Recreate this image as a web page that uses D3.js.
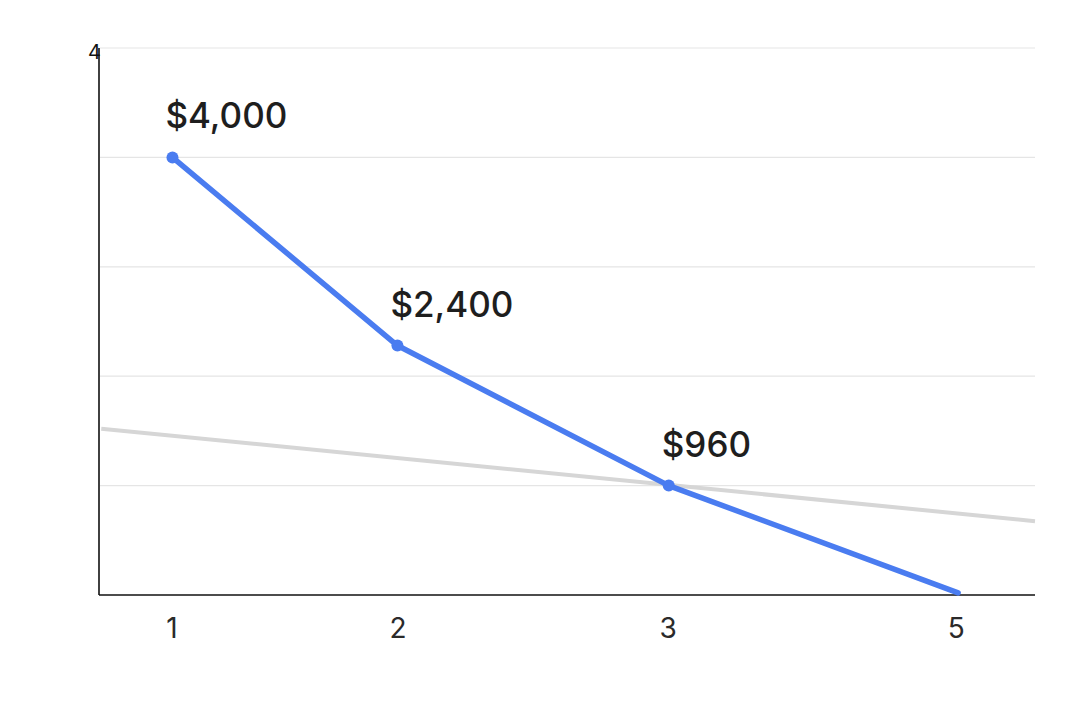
<!DOCTYPE html>
<html><head><meta charset="utf-8">
<script src="https://cdn.jsdelivr.net/npm/d3@7"></script>
<style>body{margin:0;background:#fff;} svg{display:block;}</style>
</head><body>
<svg id="c" width="1080" height="720"></svg>
<script>
// Data
const xTickPos = [1, 2, 3.195, 4.47];          // positions of ticks on the (non-uniform) x axis
const xTickLabels = ["1", "2", "3", "5"];
const seriesX = [1.005, 2, 3.2, 4.48];
const seriesY = [4000, 2280, 1000, 20];
const pointLabels = ["$4,000", "$2,400", "$960"];
const refX = [0.69, 4.82];
const refY = [1520, 675];
const yGrid = [0, 1000, 2000, 3000, 4000, 5000];
const yTopLabel = "4";

const svg = d3.select("#c");
const x = d3.scaleLinear().domain([0.68, 4.82]).range([99, 1035]);
const y = d3.scaleLinear().domain([0, 5000]).range([595, 48]);

// gridlines
svg.append("g").selectAll("line").data(yGrid.slice(1)).join("line")
  .attr("x1", 100).attr("x2", 1035)
  .attr("y1", d => y(d)).attr("y2", d => y(d))
  .attr("stroke", "#e5e5e5").attr("stroke-width", 1.2);

// gray reference line
svg.append("path")
  .datum(refX.map((v, i) => [v, refY[i]]))
  .attr("d", d3.line().x(d => x(d[0])).y(d => y(d[1])))
  .attr("fill", "none").attr("stroke", "#d6d6d6").attr("stroke-width", 4);

// axes
const xAxis = d3.axisBottom(x).tickValues(xTickPos).tickFormat((d, i) => xTickLabels[i]).tickSize(0).tickPadding(20);
const gx = svg.append("g").attr("transform", `translate(0,${y(0)})`).call(xAxis);
gx.select(".domain").attr("stroke", "#111").attr("stroke-width", 1.6).attr("d", `M${x.range()[0]},0H${x.range()[1]}`);
gx.selectAll("text").attr("dy", null).attr("y", 43)
  .style("font-family", "Inter, 'Open Sans', sans-serif").style("font-size", "28px").attr("fill", "#2a2a2a");

svg.append("line").attr("x1", 99).attr("x2", 99).attr("y1", y(5000)).attr("y2", y(0))
  .attr("stroke", "#111").attr("stroke-width", 1.6);
svg.append("g").attr("font-size", 20).attr("font-family", "Inter, sans-serif")
  .append("text").attr("x", 88).attr("y", y(5000) + 11)
  .attr("fill", "#111").text(yTopLabel);

// blue series
const pts = seriesX.map((v, i) => [v, seriesY[i]]);
svg.append("path").datum(pts)
  .attr("d", d3.line().x(d => x(d[0])).y(d => y(d[1])))
  .attr("fill", "none").attr("stroke", "#4a7cf0").attr("stroke-width", 5.5)
  .attr("stroke-linecap", "round").attr("stroke-linejoin", "round");

svg.append("g").selectAll("circle").data(pts.slice(0, 3)).join("circle")
  .attr("cx", d => x(d[0])).attr("cy", d => y(d[1])).attr("r", 6).attr("fill", "#4a7cf0");

svg.append("g").selectAll("text").data(pointLabels).join("text")
  .attr("x", (d, i) => x(pts[i][0]) - 7)
  .attr("y", (d, i) => y(pts[i][1]) - 29)
  .style("font-family", "Inter, 'Open Sans', sans-serif").style("font-size", "35px").style("font-weight", 500)
  .attr("fill", "#1e1e1e").text(d => d);
</script>
</body></html>
